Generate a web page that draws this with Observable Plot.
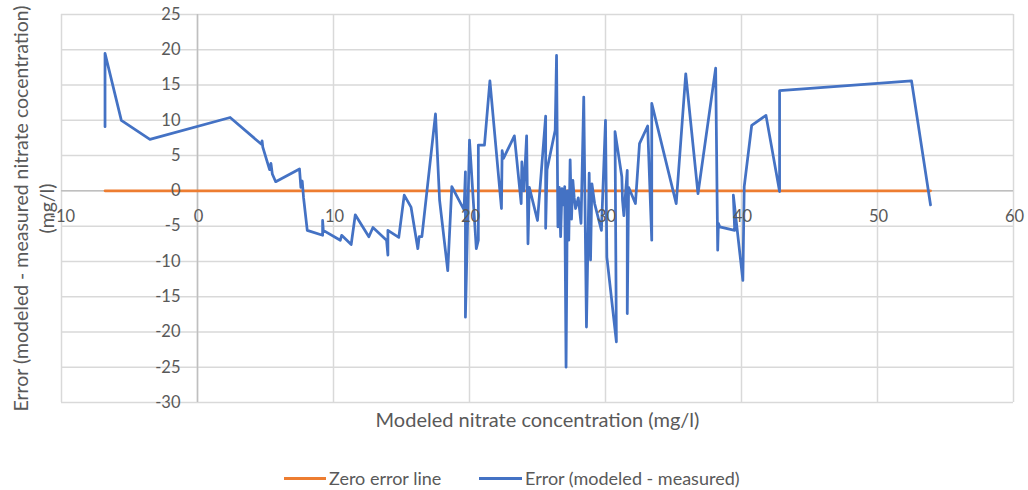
<!DOCTYPE html>
<html>
<head>
<meta charset="utf-8">
<script src="https://cdn.jsdelivr.net/npm/d3@7"></script>
<script src="https://cdn.jsdelivr.net/npm/@observablehq/plot@0.6"></script>
<style>
  html, body { margin: 0; padding: 0; background: #fff; }
  #chart svg { display: block; }
  .legend { position: relative; height: 45px; font-family: Lato, "Open Sans", sans-serif; font-size: 18px; color: #595959; }
  .legend .sw { position: absolute; top: 32px; height: 3px; }
  .legend .lb { position: absolute; top: 22px; line-height: 22px; white-space: nowrap; }
</style>
</head>
<body>
<div id="chart"></div>
<div class="legend">
  <span class="sw" style="left:284px;width:42px;background:#ED7D31"></span><span class="lb" style="left:329px">Zero error line</span>
  <span class="sw" style="left:479px;width:43px;background:#4472C4"></span><span class="lb" style="left:525px">Error (modeled - measured)</span>
</div>
<script>
// Modeled nitrate concentration (mg/l) and error (modeled - measured), in plotted order
const errorX = [
  -6.8, -6.8, -5.6, -3.5, 2.4, 4.7, 4.75, 4.8, 5.3, 5.4, 5.5, 5.75, 7.5, 7.6, 7.7, 7.8,
  8.07, 9.2, 9.2, 9.25, 10.5, 10.6, 11.3, 11.6, 12.6, 12.9, 13.9, 14.0, 14.0, 14.8, 15.2,
  15.7, 16.2, 16.3, 16.5, 17.5, 17.8, 18.4, 18.7, 19.6, 19.7, 19.7, 20.0, 20.5, 20.65,
  20.65, 21.1, 21.5, 22.35, 22.4, 22.5, 23.3, 23.8, 23.85, 24.0, 24.2, 24.3, 24.4, 25.0,
  25.6, 25.6, 25.7, 26.3, 26.4, 26.5, 26.6, 26.7, 26.8, 26.9, 27.0, 27.1, 27.2, 27.3,
  27.4, 27.5, 27.6, 27.7, 27.8, 28.0, 28.2, 28.4, 28.6, 28.8, 28.9, 29.0, 29.2, 29.7,
  30.0, 30.1, 30.8, 30.7, 31.2, 31.25, 31.35, 31.6, 31.6, 31.7, 32.2, 32.5, 33.1, 33.4,
  33.4, 35.2, 35.9, 36.8, 38.1, 38.25, 38.3, 38.4, 39.5, 39.4, 40.1, 40.2, 40.75, 41.8,
  42.8, 42.8, 52.5, 53.9
];
const errorY = [
  9.1, 19.5, 10.0, 7.3, 10.4, 6.6, 7.1, 6.2, 3.0, 3.9, 2.4, 1.3, 3.1, 0.5, 1.4, -1.0,
  -5.6, -6.3, -4.2, -5.6, -7.0, -6.3, -7.6, -3.4, -6.5, -5.2, -7.0, -9.1, -5.6, -6.6, -0.6,
  -2.3, -8.2, -6.5, -6.5, 10.9, -1.3, -11.3, 0.6, -2.7, 2.7, -17.9, 7.2, -8.2, -7.0,
  6.5, 6.5, 15.6, -2.5, 5.7, 4.6, 7.8, -1.8, 4.1, 0.0, 7.8, -7.5, 0.5, -4.2,
  10.6, -5.3, 3.0, 8.6, 19.2, -5.1, 0.5, -6.5, 0.3, -2.0, 0.6, -25.0, 0.0, -7.0,
  4.4, -4.0, 1.5, -1.0, -2.5, -1.0, -4.6, 13.3, -19.3, 2.5, -9.8, 1.0, -1.8, -5.6,
  10.0, -9.4, -21.4, 8.4, 2.0, -1.3, -3.5, 2.9, -17.4, 0.5, -1.8, 6.7, 9.2, -7.0,
  12.4, -1.8, 16.6, -0.4, 17.4, -8.4, -4.6, -5.1, -5.6, -0.6, -12.7, 0.6, 9.3, 10.7,
  -0.1, 14.2, 15.6, -2.0
];
const zeroX = [-6.8, 53.9];
const zeroY = [0, 0];
const xTicks = [-10, 0, 10, 20, 30, 40, 50, 60];
const yTicks = [-30, -25, -20, -15, -10, -5, 0, 5, 10, 15, 20, 25];
const xTitle = "Modeled nitrate concentration (mg/l)";
const yTitle = "Error (modeled - measured nitrate cocentration)\n(mg/l)";

const errorData = errorX.map((x, i) => ({x, y: errorY[i]}));
const zeroData = zeroX.map((x, i) => ({x, y: zeroY[i]}));

const font = "Lato, 'Open Sans', sans-serif";
const chart = Plot.plot({
  width: 1028,
  height: 445,
  marginLeft: 61,
  marginRight: 15,
  marginTop: 14,
  marginBottom: 43,
  style: {fontFamily: font, background: "#fff"},
  x: {domain: [-10, 60], axis: null},
  y: {domain: [-30, 25], axis: null},
  marks: [
    Plot.gridX(xTicks, {stroke: "#D9D9D9", strokeOpacity: 1, strokeWidth: 1.5}),
    Plot.gridY(yTicks, {stroke: "#D9D9D9", strokeOpacity: 1, strokeWidth: 1.5}),
    Plot.ruleX([0], {stroke: "#BFBFBF", strokeWidth: 1.5}),
    Plot.ruleY([0], {stroke: "#BFBFBF", strokeWidth: 1.5}),
    Plot.line(zeroData, {x: "x", y: "y", stroke: "#ED7D31", strokeWidth: 2.75}),
    Plot.line(errorData, {x: "x", y: "y", stroke: "#4472C4", strokeWidth: 2.75, strokeLinejoin: "round", curve: "linear"}),
    Plot.text(xTicks, {x: d => d, y: 0, dy: 26, dx: 1, text: d => String(d), fill: "#595959", fontSize: 16.5}),
    Plot.text(yTicks, {x: 0, y: d => d, dx: -17, textAnchor: "end", text: d => String(d), fill: "#595959", fontSize: 16.5}),
    Plot.text([xTitle], {frameAnchor: "bottom", dy: 24, text: d => d, fill: "#595959", fontSize: 20}),
    Plot.text([yTitle], {frameAnchor: "left", dx: -29, rotate: -90, textAnchor: "middle", text: d => d, fill: "#595959", fontSize: 19.5, lineHeight: 1.35})
  ]
});
document.getElementById("chart").appendChild(chart);
</script>
</body>
</html>
